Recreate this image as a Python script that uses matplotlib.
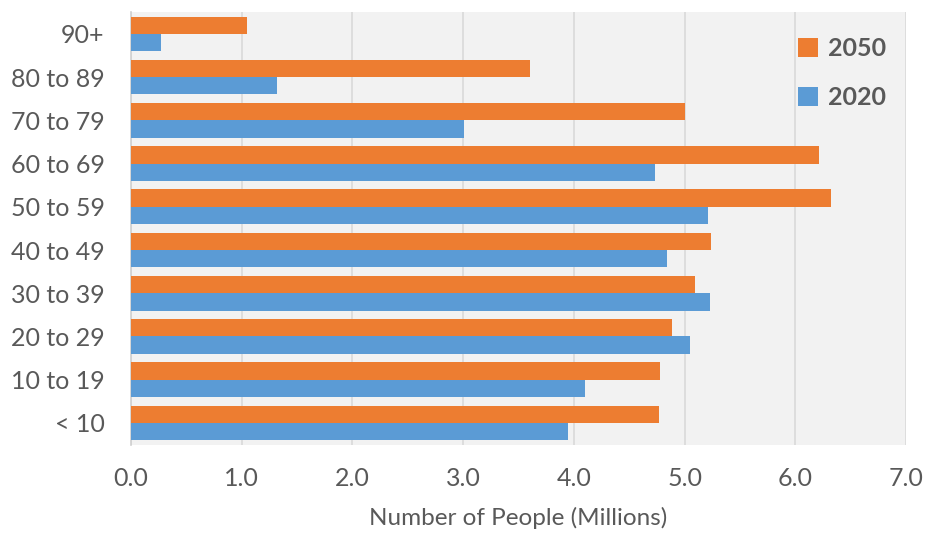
import numpy as np
import matplotlib.pyplot as plt

# age groups, top to bottom as shown
age_groups = ["90+", "80 to 89", "70 to 79", "60 to 69", "50 to 59",
              "40 to 49", "30 to 39", "20 to 29", "10 to 19", "< 10"]
pop_2050 = [1.05, 3.60, 5.00, 6.21, 6.32, 5.24, 5.09, 4.89, 4.78, 4.77]
pop_2020 = [0.27, 1.32, 3.01, 4.73, 5.21, 4.84, 5.23, 5.05, 4.10, 3.95]

ORANGE = "#ED7D31"
BLUE = "#5B9BD5"
TEXT = "#595959"

plt.rcParams["font.family"] = ["Lato", "DejaVu Sans"]

fig = plt.figure(figsize=(9.26, 5.33), dpi=100)
ax = fig.add_axes([0.1415, 0.166, 0.837, 0.811])
ax.set_facecolor("#F2F2F2")

y = np.arange(len(age_groups))
h = 0.4
ax.barh(y - h / 2, pop_2050, height=h, color=ORANGE, label="2050", zorder=3)
ax.barh(y + h / 2, pop_2020, height=h, color=BLUE, label="2020", zorder=3)

ax.set_xlim(0, 7)
ax.set_ylim(len(age_groups) - 0.5, -0.5)
ax.set_xticks(np.arange(0, 8, 1))
ax.set_xticklabels([f"{v:.1f}" for v in range(8)])
ax.set_yticks(y)
ax.set_yticklabels(age_groups)

ax.grid(axis="x", color="#D9D9D9", linewidth=1.2, zorder=0)
ax.tick_params(axis="both", length=0, labelsize=18, labelcolor=TEXT)
ax.tick_params(axis="y", pad=19)
ax.tick_params(axis="x", pad=16)

for s in ["top", "right", "bottom"]:
    ax.spines[s].set_visible(False)
ax.spines["left"].set_color("#D0D0D0")
ax.spines["left"].set_linewidth(1.2)

ax.set_xlabel("Number of People (Millions)", fontsize=17.5, color=TEXT, labelpad=12)

leg = ax.legend(loc="upper right", frameon=False, fontsize=18,
                handlelength=0.8, handleheight=0.8, handletextpad=0.4,
                labelspacing=1.05, bbox_to_anchor=(1.003, 0.995))
for t in leg.get_texts():
    t.set_color(TEXT)
    t.set_fontweight("bold")

fig.savefig("out.png", dpi=100)
